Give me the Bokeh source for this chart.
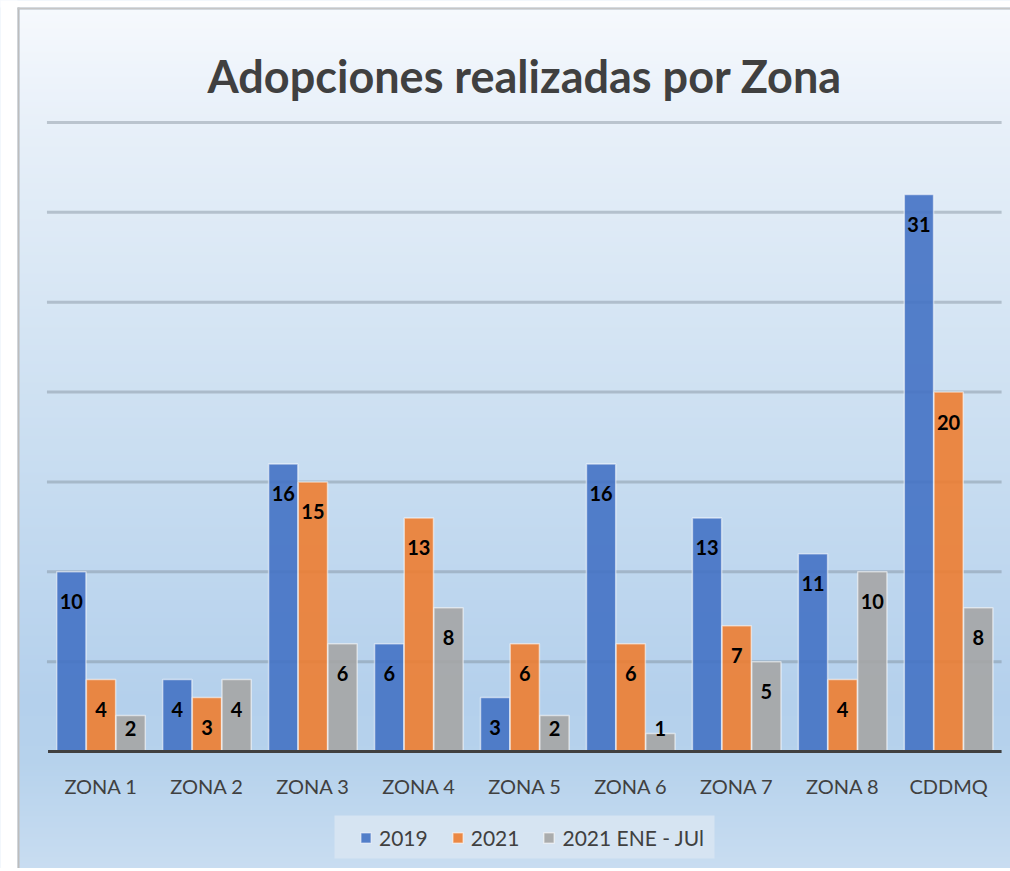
import numpy as np
from bokeh.plotting import figure
from bokeh.models import Range1d, Legend, LegendItem, Label, BoxAnnotation
from bokeh.core.properties import value
from bokeh.embed import file_html
from bokeh.resources import INLINE

# ---------------- data ----------------
categories = ["ZONA 1", "ZONA 2", "ZONA 3", "ZONA 4", "ZONA 5", "ZONA 6", "ZONA 7", "ZONA 8", "CDDMQ"]
series_names = ["2019", "2021", "2021 ENE - JUl"]
v2019 = [10, 4, 16, 6, 3, 16, 13, 11, 31]
v2021 = [4, 3, 15, 13, 6, 6, 7, 4, 20]
v2021_ene_jul = [2, 4, 6, 8, 2, 1, 5, 10, 8]
grid_ticks = [5, 10, 15, 20, 25, 30, 35]
title_text = "Adopciones realizadas por Zona"

# ---------------- layout (canvas pixels) ----------------
W, H = 1010, 868
CAT_W = 105.95      # px per category
CAT0_X = 100.5      # px of first category centre
BASE_Y = 751        # px of value 0 (from top)
PPU = 17.971        # px per value unit

X0 = -CAT0_X / CAT_W
X1 = (W - CAT0_X) / CAT_W
Y1 = BASE_Y / PPU
Y0 = -(H - BASE_Y) / PPU


def dx(px):
    return X0 + px / CAT_W


def dy(py):
    return (BASE_Y - py) / PPU


p = figure(width=W, height=H, x_range=Range1d(X0, X1), y_range=Range1d(Y0, Y1),
           output_backend="svg", toolbar_location=None, min_border=0,
           x_axis_location=None, y_axis_location=None,
           background_fill_color="#c9ddf1", border_fill_color="#c9ddf1",
           outline_line_color=None)
p.xgrid.visible = False
p.ygrid.visible = False

# ---------------- gradient background ----------------
TOP_EDGE = 9
LEFT_EDGE = 19
stop_px = [TOP_EDGE, 120, 300, 500, 700, 760, 871]
stop_col = ["#f6f9fd", "#e8f0f9", "#d7e6f4", "#c5dbf0", "#b4d0ec", "#b6d2ec", "#c9ddf1"]
rgb = np.array([[int(c[i:i + 2], 16) for i in (1, 3, 5)] for c in stop_col], dtype=float)
nrows = H - TOP_EDGE
rows = TOP_EDGE + np.arange(nrows) + 0.5
img = np.zeros((nrows, 1), dtype=np.uint32)
view = img.view(dtype=np.uint8).reshape((nrows, 1, 4))
for ch in range(3):
    view[:, 0, ch] = np.interp(rows, stop_px, rgb[:, ch]).round().astype(np.uint8)
view[:, 0, 3] = 255
img = img[::-1].copy()
p.image_rgba(image=[img], x=dx(LEFT_EDGE), y=Y0, dw=X1 - dx(LEFT_EDGE) + 1.0, dh=dy(TOP_EDGE) - Y0)

# white page area outside the chart (left strip and top strip)
p.add_layout(BoxAnnotation(left=X0 - 1, right=dx(17), bottom=Y0 - 1, top=Y1 + 1,
                           fill_color="white", fill_alpha=1, line_color=None))
p.add_layout(BoxAnnotation(left=X0 - 1, right=X1 + 1, bottom=dy(7), top=Y1 + 1,
                           fill_color="white", fill_alpha=1, line_color=None))

# chart border (left and top)
p.add_layout(BoxAnnotation(left=dx(17), right=dx(LEFT_EDGE), bottom=Y0 - 1, top=dy(7),
                           fill_color="#bdbdbd", fill_alpha=1, line_color=None))
p.add_layout(BoxAnnotation(left=dx(17), right=X1 + 1, bottom=dy(TOP_EDGE), top=dy(7),
                           fill_color="#c6c6c6", fill_alpha=1, line_color=None))

# ---------------- gridlines ----------------
n = len(categories)
gx0 = -0.51
gx1 = n - 0.5
p.segment(x0=[gx0] * len(grid_ticks), x1=[gx1] * len(grid_ticks), y0=grid_ticks, y1=grid_ticks,
          line_color="#7a8794", line_alpha=0.42, line_width=3)

# ---------------- bars ----------------
idx = np.arange(n)
bar_w = 0.276
offsets = [-0.28, 0.0, 0.28]
colors = ["#4472C4", "#ED7D31", "#A5A5A5"]
series = [v2019, v2021, v2021_ene_jul]
renderers = []
for vals, off, col in zip(series, offsets, colors):
    r = p.vbar(x=idx + off, top=vals, bottom=0, width=bar_w,
               fill_color=col, fill_alpha=0.9,
               line_color="white", line_alpha=0.55, line_width=1.5)
    renderers.append(r)

# baseline
p.segment(x0=[gx0 + 0.01], x1=[gx1], y0=[0], y1=[0], line_color="#404040", line_width=3)

# value labels
for vals, off in zip(series, offsets):
    arr = np.array(vals, dtype=float)
    ly = np.maximum(arr - 30 / PPU, 23 / PPU)
    p.text(x=idx + off, y=ly, text=[str(v) for v in vals],
           text_align="center", text_baseline="middle",
           text_font=value("Lato"), text_font_style="bold",
           text_font_size="20px", text_color="black")

# category labels
p.text(x=idx, y=[dy(785)] * n, text=categories,
       text_align="center", text_baseline="middle",
       text_font=value("Lato"), text_font_size="20px", text_color="#404040")

# title
p.add_layout(Label(x=(n - 1) / 2, y=dy(75), text=title_text,
                   text_align="center", text_baseline="alphabetic",
                   text_font="Lato", text_font_style="bold",
                   text_font_size="45px", text_color="#404040"))

# legend box + legend
p.add_layout(BoxAnnotation(left=dx(334), right=dx(714), top=dy(815), bottom=dy(858),
                           fill_color="#d6e4f2", fill_alpha=1, line_color=None))
legend = Legend(items=[LegendItem(label=nm, renderers=[r]) for nm, r in zip(series_names, renderers)],
                location=(359, H - 850), orientation="horizontal",
                glyph_width=13, glyph_height=13, label_standoff=7, spacing=23,
                padding=0, margin=0, label_height=13,
                label_text_font="Lato", label_text_font_size="21px",
                label_text_color="#404040",
                background_fill_alpha=0, border_line_color=None)
p.add_layout(legend)

open("out.html", "w").write(file_html(p, INLINE))
